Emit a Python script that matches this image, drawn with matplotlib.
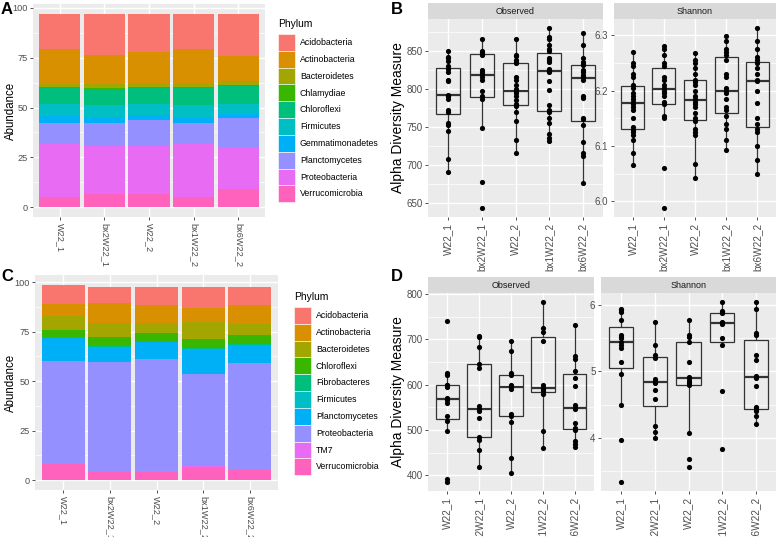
import matplotlib
matplotlib.use("Agg")
import matplotlib.pyplot as plt
from matplotlib.patches import Patch
import numpy as np

plt.rcParams['font.family'] = ['Liberation Sans', 'DejaVu Sans']

W, H = 778, 537

samples = ["W22_1", "bx2W22_1", "W22_2", "bx1W22_2", "bx6W22_2"]

hue10 = ["#F8766D", "#D89000", "#A3A500", "#39B600", "#00BF7D",
         "#00BFC4", "#00B0F6", "#9590FF", "#E76BF3", "#FF62BC"]

# panel A: relative abundance per phylum (top of stack first)
phyla_a = ["Acidobacteria", "Actinobacteria", "Bacteroidetes", "Chlamydiae", "Chloroflexi",
           "Firmicutes", "Gemmatimonadetes", "Planctomycetes", "Proteobacteria", "Verrucomicrobia"]
abund_a = {
    "Acidobacteria":    [17.6, 20.4, 18.9, 17.6, 20.9],
    "Actinobacteria":   [17.6, 14.5, 15.5, 17.3, 12.4],
    "Bacteroidetes":    [1.7, 2.2, 1.8, 1.6, 2.1],
    "Chlamydiae":       [0.5, 0.8, 0.7, 0.7, 0.7],
    "Chloroflexi":      [8.0, 7.7, 8.2, 8.7, 8.7],
    "Firmicutes":       [6.0, 5.8, 5.5, 5.8, 5.4],
    "Gemmatimonadetes": [3.3, 3.0, 2.4, 3.3, 2.0],
    "Planctomycetes":   [10.5, 11.5, 12.9, 10.4, 14.8],
    "Proteobacteria":   [26.4, 24.2, 24.2, 26.2, 20.6],
    "Verrucomicrobia":  [5.4, 6.6, 6.6, 5.4, 9.1],
}

# panel C
phyla_c = ["Acidobacteria", "Actinobacteria", "Bacteroidetes", "Chloroflexi", "Fibrobacteres",
           "Firmicutes", "Planctomycetes", "Proteobacteria", "TM7", "Verrucomicrobia"]
abund_c = {
    "Acidobacteria":   [9.9, 8.1, 8.9, 10.6, 8.9],
    "Actinobacteria":  [5.9, 9.8, 9.2, 7.0, 9.5],
    "Bacteroidetes":   [7.2, 7.2, 4.9, 8.4, 5.9],
    "Chloroflexi":     [3.3, 4.2, 4.0, 4.5, 4.2],
    "Fibrobacteres":   [0.5, 0.9, 0.5, 0.8, 0.5],
    "Firmicutes":      [0.3, 0.3, 0.2, 0.5, 0.3],
    "Planctomycetes":  [11.5, 7.2, 8.7, 12.3, 8.9],
    "Proteobacteria":  [51.7, 55.6, 56.6, 46.4, 53.9],
    "TM7":             [0.1, 0.1, 0.1, 0.1, 0.1],
    "Verrucomicrobia": [8.3, 4.1, 4.4, 6.9, 5.3],
}

# panel B: alpha diversity
obs_b = [
    [850, 842, 840, 836, 830, 826, 822, 812, 810, 792, 791, 790, 786, 772, 770, 755, 752, 745, 707, 691],
    [866, 850, 848, 846, 845, 825, 822, 820, 816, 812, 797, 790, 787, 748, 677, 643],
    [866, 845, 843, 838, 835, 834, 815, 812, 805, 800, 797, 795, 790, 785, 780, 779, 777, 770, 758, 733, 716],
    [880, 868, 865, 858, 852, 850, 840, 838, 835, 826, 824, 822, 810, 798, 779, 772, 770, 762, 755, 740, 735, 731],
    [874, 858, 840, 835, 833, 831, 825, 822, 818, 816, 812, 790, 788, 762, 760, 752, 730, 715, 712, 676],
]
sha_b = [
    [6.27, 6.25, 6.245, 6.23, 6.225, 6.21, 6.205, 6.195, 6.19, 6.185, 6.18, 6.177, 6.175, 6.17,
     6.165, 6.15, 6.135, 6.128, 6.125, 6.12, 6.11, 6.088, 6.065],
    [6.28, 6.275, 6.265, 6.25, 6.245, 6.225, 6.22, 6.21, 6.205, 6.2, 6.195, 6.19, 6.18, 6.175,
     6.155, 6.15, 6.06, 5.988],
    [6.268, 6.255, 6.25, 6.24, 6.23, 6.22, 6.215, 6.21, 6.2, 6.19, 6.185, 6.18, 6.175, 6.17,
     6.16, 6.15, 6.145, 6.13, 6.125, 6.12, 6.067, 6.043],
    [6.298, 6.29, 6.275, 6.27, 6.265, 6.255, 6.23, 6.225, 6.205, 6.2, 6.195, 6.185, 6.17, 6.165,
     6.155, 6.14, 6.13, 6.11, 6.092],
    [6.313, 6.29, 6.275, 6.26, 6.255, 6.25, 6.24, 6.23, 6.22, 6.218, 6.2, 6.178, 6.15, 6.14,
     6.13, 6.125, 6.1, 6.075, 6.05],
]

# panel D
obs_d = [
    [740, 625, 620, 600, 598, 595, 570, 568, 565, 560, 530, 520, 497, 392, 385],
    [706, 704, 682, 645, 636, 552, 547, 541, 527, 485, 478, 456, 417],
    [696, 673, 625, 620, 600, 597, 595, 590, 535, 530, 517, 438, 405],
    [782, 725, 715, 695, 600, 593, 590, 585, 580, 497, 460],
    [731, 662, 657, 630, 615, 597, 555, 548, 545, 515, 505, 500, 475, 468, 463],
]
sha_d = [
    [5.95, 5.93, 5.9, 5.78, 5.55, 5.52, 5.5, 5.45, 5.4, 5.36, 5.14, 4.96, 4.5, 3.97, 3.33],
    [5.75, 5.4, 5.25, 5.2, 4.88, 4.85, 4.82, 4.72, 4.58, 4.18, 4.08, 4.0],
    [5.78, 5.55, 5.52, 5.45, 5.15, 4.92, 4.9, 4.85, 4.82, 4.8, 4.07, 3.68, 3.55],
    [6.05, 5.92, 5.9, 5.88, 5.75, 5.73, 5.72, 5.5, 5.4, 4.7, 3.83],
    [6.05, 5.95, 5.58, 5.55, 5.25, 5.17, 4.93, 4.9, 4.78, 4.47, 4.43, 4.4, 4.32, 4.2],
]

PANEL_BG = "#EBEBEB"
STRIP_BG = "#D9D9D9"
TICK_COL = "#4D4D4D"


def px_axes(fig, x0, y0, x1, y1):
    return fig.add_axes([x0 / W, 1 - y1 / H, (x1 - x0) / W, (y1 - y0) / H])


def gg_style(ax, yticks, yminor, ysize):
    ax.set_facecolor(PANEL_BG)
    for s in ax.spines.values():
        s.set_visible(False)
    ax.set_yticks(yticks)
    ax.set_yticks(yminor, minor=True)
    ax.grid(True, which='major', color='white', lw=1.0)
    ax.grid(True, which='minor', axis='y', color='white', lw=0.5)
    ax.set_axisbelow(True)
    ax.tick_params(which='major', length=2.5, width=0.6, color='#333333',
                   labelcolor=TICK_COL, labelsize=ysize, pad=1.5)
    ax.tick_params(which='minor', length=0)


def ylim_expand(ax, lo, hi):
    r = hi - lo
    ax.set_ylim(lo - 0.05 * r, hi + 0.05 * r)


def bar_panel(fig, box, phyla, abund, leg_pos):
    ax = px_axes(fig, *box)
    x = np.arange(1, len(samples) + 1)
    bottom = np.zeros(len(samples))
    for i in range(len(phyla) - 1, -1, -1):
        vals = np.array(abund[phyla[i]])
        ax.bar(x, vals, bottom=bottom, width=0.92, color=hue10[i], lw=0)
        bottom += vals
    ax.set_xlim(0.4, len(samples) + 0.6)
    ylim_expand(ax, 0, bottom.max())
    gg_style(ax, [0, 25, 50, 75, 100], [12.5, 37.5, 62.5, 87.5], 6.6)
    ax.set_xticks(x)
    ax.set_xticklabels(samples, rotation=270, fontsize=6.6)
    ax.set_ylabel("Abundance", fontsize=8.3)
    # right edge of the rotated label at about 17 px from the figure edge
    ax.yaxis.set_label_coords((17 - box[0]) / (box[2] - box[0]), 0.5)

    lx, ly = leg_pos
    fig.text(lx / W, 1 - ly / H, "Phylum", fontsize=7.4, ha='left', va='center')
    handles = [Patch(facecolor=hue10[i], edgecolor='white', lw=0.4) for i in range(len(phyla))]
    fig.legend(handles, phyla, loc='upper left', bbox_to_anchor=(lx / W, 1 - (ly + 10) / H),
               frameon=False, fontsize=6.3,
               handlelength=1.94, handleheight=2.58, labelspacing=0.0, handletextpad=0.55,
               borderpad=0, borderaxespad=0)
    return ax


def box_facet(fig, box, strip_label, groups, yticks, yminor, show_ylabel):
    x0, y0, x1, y1 = box
    strip = px_axes(fig, x0, y0 - 16, x1, y0)
    strip.set_facecolor(STRIP_BG)
    strip.set_xticks([])
    strip.set_yticks([])
    for s in strip.spines.values():
        s.set_visible(False)
    strip.text(0.5, 0.5, strip_label, ha='center', va='center', fontsize=6.5,
               color='#1A1A1A', transform=strip.transAxes)

    ax = px_axes(fig, x0, y0, x1, y1)
    pos = np.arange(1, len(groups) + 1)
    line = dict(color='#333333', lw=0.9)
    ax.boxplot(groups, positions=pos, widths=0.73, showfliers=False, patch_artist=True,
               boxprops=dict(facecolor='none', edgecolor='#333333', lw=0.9),
               whiskerprops=line, capprops=dict(lw=0), medianprops=dict(color='#333333', lw=1.6))
    for p, g in zip(pos, groups):
        ax.scatter(np.full(len(g), p), g, s=14, color='black', zorder=3, lw=0)
    allv = np.concatenate([np.array(g, dtype=float) for g in groups])
    ylim_expand(ax, allv.min(), allv.max())
    ax.set_xlim(0.4, len(groups) + 0.6)
    gg_style(ax, yticks, yminor, 7)
    ax.set_xticks(pos)
    ax.set_xticklabels(samples, rotation=90, fontsize=7.2)
    if show_ylabel:
        ax.set_ylabel("Alpha Diversity Measure", fontsize=10)
        ax.yaxis.set_label_coords((405 - x0) / (x1 - x0), 0.5)
    return ax


fig = plt.figure(figsize=(W / 100, H / 100), dpi=100)

bar_panel(fig, (33, 4, 265, 217), phyla_a, abund_a, (278, 24))
bar_panel(fig, (35, 275, 278, 490), phyla_c, abund_c, (294, 297))

box_facet(fig, (428, 19, 603, 217), "Observed", obs_b,
          [650, 700, 750, 800, 850], [675, 725, 775, 825, 875], True)
box_facet(fig, (614, 19, 776, 217), "Shannon", sha_b,
          [6.0, 6.1, 6.2, 6.3], [6.05, 6.15, 6.25], False)
box_facet(fig, (428, 293, 594, 491), "Observed", obs_d,
          [400, 500, 600, 700, 800], [450, 550, 650, 750], True)
box_facet(fig, (601, 293, 776, 491), "Shannon", sha_d,
          [4, 5, 6], [3.5, 4.5, 5.5], False)

for lab, x, y in [("A", 1, 2), ("B", 391, 2), ("C", 1, 269), ("D", 391, 269)]:
    fig.text(x / W, 1 - y / H, lab, fontsize=12, fontweight='bold', ha='left', va='top')

fig.savefig("out.png", dpi=100)
